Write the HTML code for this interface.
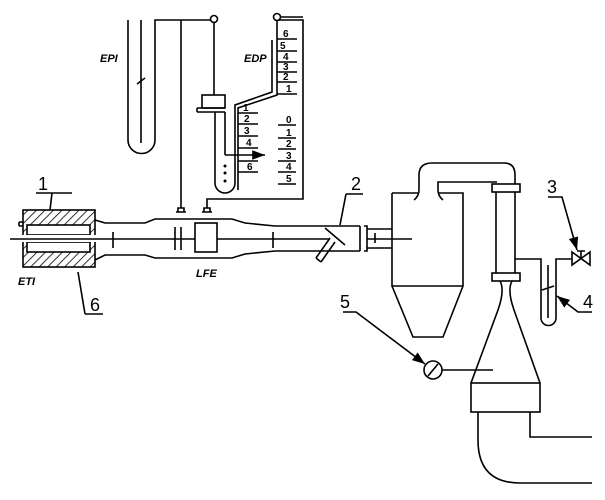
<!DOCTYPE html>
<html><head><meta charset="utf-8"><style>
html,body{margin:0;padding:0;background:#fff;}
svg{display:block;}
text{font-family:"Liberation Sans",sans-serif;fill:#000;}
</style></head><body>
<svg width="605" height="500" viewBox="0 0 605 500" xmlns="http://www.w3.org/2000/svg">
<defs>
<pattern id="h" width="6" height="6" patternUnits="userSpaceOnUse" patternTransform="rotate(45)">
<line x1="0" y1="0" x2="0" y2="6" stroke="#000" stroke-width="1.6"/></pattern>
<marker id="ar" markerWidth="8" markerHeight="6" refX="8" refY="3" orient="auto"><path d="M0,0 L8,3 L0,6z" fill="#000"/></marker>
</defs>
<g fill="none" stroke="#000" stroke-width="1.6">
<!-- ETI block -->
<rect x="23" y="210" width="72" height="57" fill="url(#h)"/>
<rect x="27" y="225" width="63" height="10" fill="#fff"/>
<rect x="27" y="242" width="63" height="10" fill="#fff"/>
<rect x="19" y="235" width="80" height="7" fill="#fff" stroke="none"/>
<line x1="10" y1="239" x2="330" y2="239"/>
<path d="M19,222 h4 M19,226 h4 M19,222 v4"/>
<!-- tube -->
<path d="M95,220 L105,223 L145,223 L155,219 L232,219 L245,223 L275,226 L360,226"/>
<path d="M95,260 L105,255 L145,255 L155,258 L232,258 L245,254 L275,251 L360,251"/>
<line x1="113" y1="232" x2="113" y2="248"/>
<line x1="273" y1="232" x2="273" y2="248"/>
<line x1="175" y1="227" x2="175" y2="250"/>
<line x1="181" y1="227" x2="181" y2="250"/>
<rect x="195" y="223" width="22" height="29" fill="#fff"/>
<!-- probe -->
<line x1="325" y1="228" x2="345" y2="245"/>
<path d="M330,238 L316,258 M335,242 L321,262 M316,258 L321,262"/>
<!-- joint & pipe to cyclone -->
<path d="M360,226 V251 M364,226 h3 v25 h-3 M367,229 H392 M367,248 H392 M375,233 v10"/>
<line x1="367" y1="239" x2="412" y2="239"/>
<!-- taps -->
<path d="M176,212 h10 M178,212 v-4 h6 v4 M181,208 V20"/>
<path d="M202,212 h10 M204,212 v-4 h6 v4 M207,208 V199 H303 V20 H277"/>
<!-- EPI -->
<path d="M128,20 V140 A13.5,13.5 0 0 0 155,140 V20 H214"/>
<line x1="141" y1="20" x2="141" y2="143"/>
<line x1="137" y1="84" x2="145" y2="78"/>
<circle cx="214" cy="19" r="3.5" fill="#fff"/>
<line x1="214" y1="23" x2="214" y2="95"/>
<rect x="202" y="95" width="23" height="13" fill="#fff"/>
<path d="M197,108 H225 M197,112 H225 M197,108 v4"/>
<!-- EDP U tube -->
<path d="M215,112 V183 A10,10 0 0 0 235,183 V105 L272,92 V40"/>
<path d="M238,190 V108 L277,95 V40"/>
<line x1="225" y1="112" x2="225" y2="155"/>
<line x1="225" y1="155" x2="265" y2="155" marker-end="url(#ar)"/>
<circle cx="277" cy="17" r="3.5" fill="#fff"/>
<path d="M277,21 V40 M281,17 H303"/>
<path d="M277,39 h20 M277,51 h20 M277,62 h20 M277,72 h20 M277,82 h20 M277,94 h20"/>
<path d="M238,113 h20 M238,124 h20 M238,136 h20 M238,148 h20 M238,161 h20 M238,172 h20"/>
<path d="M278,125 h18 M278,138 h18 M278,149 h18 M278,161 h18 M278,172 h18 M278,184 h18"/>
<!-- leaders -->
<path d="M36,193 H72 M52,193 L50,210"/>
<path d="M85,314 H103 M85,314 L78,272"/>
<path d="M346,194 H363 M346,194 L340,225"/>
<!-- cyclone -->
<path d="M392,193 V286 H463 V193 H438 M419,193 H392"/>
<path d="M414,200 Q419,196 419,190 V175 Q419,163 432,163 H504 Q515,163 515,175 V184"/>
<path d="M443,200 Q438,196 438,190 V182 H497"/>
<path d="M392,286 L413,337 H443 L463,286"/>
<!-- vertical pipe -->
<rect x="492" y="184" width="28" height="8" fill="#fff"/>
<rect x="492" y="273" width="28" height="8" fill="#fff"/>
<path d="M496,192 V273 M515,192 V273"/>
<path d="M500,281 Q505,290 498,310 L471,383 M512,281 Q507,290 514,310 L540,383"/>
<rect x="471" y="383" width="69" height="29" fill="#fff"/>
<path d="M478,412 V440 Q478,483 520,483 H592 M530,412 V437 H592"/>
<!-- side branch -->
<path d="M515,259 H541 V318 A7.5,7.5 0 0 0 556,318 V259 H572"/>
<line x1="548" y1="265" x2="548" y2="318"/>
<line x1="542" y1="290" x2="554" y2="286"/>
<path d="M572,252 L590,265 V252 L572,265 Z M581,259 V251 M577,251 h8"/>
<path d="M548,197 H562 L577,250" marker-end="url(#ar)"/>
<path d="M592,312 H578 L557,296" marker-end="url(#ar)"/>
<!-- gauge -->
<circle cx="433" cy="370" r="9" fill="#fff"/>
<line x1="428" y1="376" x2="438" y2="364"/>
<line x1="442" y1="370" x2="493" y2="370"/>
<path d="M343,312 H356 L425,364" marker-end="url(#ar)"/>
</g>
<g font-size="18">
<text x="38" y="190">1</text><text x="351" y="190">2</text><text x="547" y="193">3</text>
<text x="583" y="308">4</text><text x="340" y="308">5</text><text x="90" y="311">6</text>
</g>
<g font-size="11" font-style="italic" font-weight="bold">
<text x="18" y="285">ETI</text><text x="196" y="277">LFE</text>
<text x="100" y="62">EPI</text><text x="244" y="62">EDP</text>
</g>
<g font-size="10" font-weight="bold">
<text x="283" y="37">6</text><text x="280" y="49">5</text><text x="283" y="60">4</text><text x="283" y="70">3</text><text x="283" y="80">2</text><text x="286" y="92">1</text>
<text x="243" y="111">1</text><text x="244" y="122">2</text><text x="244" y="134">3</text><text x="246" y="146">4</text><text x="247" y="170">6</text>
<text x="286" y="123">0</text><text x="286" y="136">1</text><text x="286" y="147">2</text><text x="286" y="159">3</text><text x="286" y="170">4</text><text x="286" y="182">5</text>
</g>
<g fill="#000"><circle cx="225" cy="166" r="1.5"/><circle cx="225" cy="173" r="1.5"/><circle cx="225" cy="181" r="1.5"/></g>
</svg>
</body></html>
